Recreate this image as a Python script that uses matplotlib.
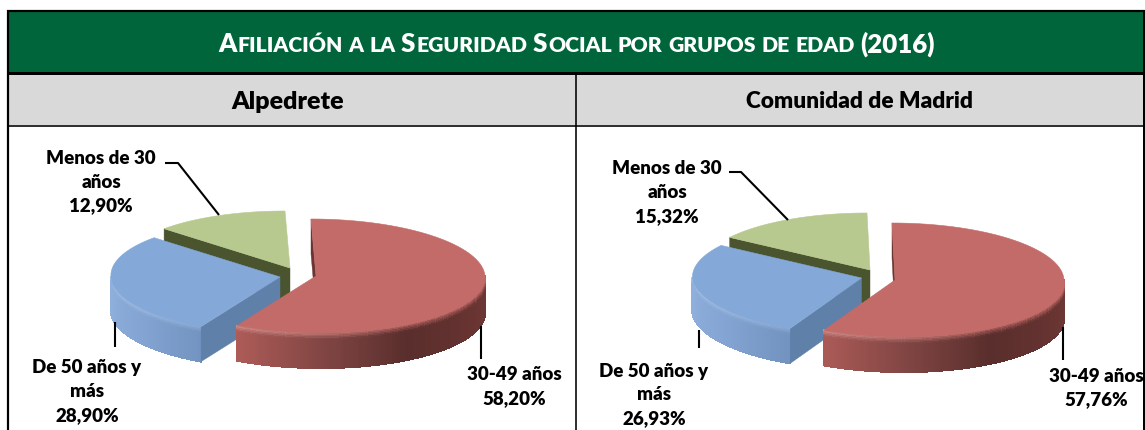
import numpy as np
import matplotlib
matplotlib.use("Agg")
import matplotlib.pyplot as plt
from matplotlib.patches import Polygon, Rectangle
from matplotlib.collections import PolyCollection
from matplotlib.colors import to_rgb
from matplotlib.font_manager import FontProperties

plt.rcParams['font.family'] = ['Lato', 'DejaVu Sans']

# Data
title_runs = ["A", "FILIACIÓN A LA ", "S", "EGURIDAD ", "S", "OCIAL POR GRUPOS DE EDAD ", "(2016)"]
regions = ["Alpedrete", "Comunidad de Madrid"]
share_alpedrete = [58.20, 28.90, 12.90]
share_madrid = [57.76, 26.93, 15.32]
labels_alpedrete = ["30-49 años\n58,20%", "De 50 años y\nmás\n28,90%", "Menos de 30\naños\n12,90%"]
labels_madrid = ["30-49 años\n57,76%", "De 50 años y\nmás\n26,93%", "Menos de 30\naños\n15,32%"]

# Colours
GREEN = "#00653A"
GREY = "#D9D9D9"
RED_TOP, BLUE_TOP, OLIVE_TOP = "#C36B68", "#84A8D8", "#B8C98F"
OLIVE_WALL, BLUE_WALL, RED_WALL = "#4A5530", "#5F80A9", "#6B3533"
RED_SIDE_ANGLES = [90, 115, 150, 175, 210]
RED_SIDE = ["#6F3836", "#683432", "#592E2C", "#7A4240", "#AE5C58"]
BLUE_SIDE_ANGLES = [205, 235, 270]
BLUE_SIDE = ["#7091BD", "#83A4D2", "#8FB0DC"]

DEPTH = 35
RX, RY = 169, 57

fig = plt.figure(figsize=(11.45, 4.3), dpi=100)
ax = fig.add_axes([0, 0, 1, 1])
ax.set_xlim(0, 1145)
ax.set_ylim(430, 0)
ax.axis("off")


def point(c, th, lean):
    t = np.radians(th)
    y0 = -np.cos(t)
    shift = lean[0] * y0 if y0 < 0 else lean[1] * y0
    return c[0] + RX * np.sin(t) + shift, c[1] + RY * y0


def rim(c, a, b, lean):
    return [point(c, th, lean) for th in np.linspace(a, b, 90)]


def hex_mix(c1, c2, f):
    c1, c2 = np.array(to_rgb(c1)), np.array(to_rgb(c2))
    return c1 * (1 - f) + c2 * f


def top_face(c, a, b, lean, color, z):
    ax.add_patch(Polygon([c] + rim(c, a, b, lean), closed=True, fc=color, ec=color, lw=0.4, zorder=z))


def cut_wall(c, th, lean, color, z):
    p = point(c, th, lean)
    pts = [p, c, (c[0], c[1] + DEPTH), (p[0], p[1] + DEPTH)]
    ax.add_patch(Polygon(pts, closed=True, fc=color, ec=color, lw=0.3, zorder=z))


def side_wall(c, a, b, lean, angles, cols, top_col, glow, z):
    # outer wall of a slice, cut in small quads for the shading and the bevel
    a2, b2 = max(a, 90), min(b, 270)
    ths = np.linspace(a2, b2, 120)
    zs = np.concatenate([np.linspace(0, 0.25, 7), np.linspace(0.3, 1, 4)])
    rgb = np.array([to_rgb(x) for x in cols])
    quads, colors = [], []
    for i in range(len(ths) - 1):
        tm = (ths[i] + ths[i + 1]) / 2
        base = np.array([np.interp(tm, angles, rgb[:, k]) for k in range(3)])
        g = np.interp(tm, glow[0], glow[1])
        rim_col = hex_mix(top_col, "#FFFFFF", g)
        p0, p1 = point(c, ths[i], lean), point(c, ths[i + 1], lean)
        for j in range(len(zs) - 1):
            zm = (zs[j] + zs[j + 1]) / 2
            f = min(1, zm / 0.2) ** 0.8
            quads.append([(p0[0], p0[1] + zs[j] * DEPTH), (p1[0], p1[1] + zs[j] * DEPTH),
                          (p1[0], p1[1] + zs[j + 1] * DEPTH), (p0[0], p0[1] + zs[j + 1] * DEPTH)])
            colors.append(rim_col * (1 - f) + base * f)
    # no antialiasing here, otherwise the quad seams show as a mesh
    ax.add_collection(PolyCollection(quads, facecolors=colors, edgecolors=colors, linewidths=0.8,
                                     antialiaseds=False, zorder=z))


def draw_pie(shares, red_c, blue_c, green_c, lean):
    red_end = shares[0] * 3.6
    blue_end = red_end + shares[1] * 3.6
    cut_wall(green_c, blue_end, lean, OLIVE_WALL, 3)
    top_face(green_c, blue_end, 360, lean, OLIVE_TOP, 4)
    side_wall(blue_c, red_end, blue_end, lean, BLUE_SIDE_ANGLES, BLUE_SIDE, BLUE_TOP, ([205, 270], [0.1, 0.4]), 5)
    cut_wall(blue_c, red_end, lean, BLUE_WALL, 6)
    top_face(blue_c, red_end, blue_end, lean, BLUE_TOP, 7)
    cut_wall(red_c, 0, lean, RED_WALL, 8)
    side_wall(red_c, 0, red_end, lean, RED_SIDE_ANGLES, RED_SIDE, RED_TOP, ([90, 150, 210], [0.0, 0.0, 0.35]), 9)
    top_face(red_c, 0, red_end, lean, RED_TOP, 10)


# Table frame
ax.add_patch(Rectangle((7, 10), 1138, 62, fc=GREEN, ec="none", zorder=1))
ax.add_patch(Rectangle((7, 73), 1138, 52, fc=GREY, ec="none", zorder=1))
for y, lw in [(11, 2.2), (73, 3), (125.5, 1.6)]:
    ax.plot([7, 1145], [y, y], color="black", lw=lw * 0.72, solid_capstyle="butt", zorder=2)
for x, lw, y0 in [(7.5, 2.2, 10), (575.5, 1.6, 73), (1143.5, 2, 10)]:
    ax.plot([x, x], [y0, 430], color="black", lw=lw * 0.72, solid_capstyle="butt", zorder=2)

# Small caps title, one piece of text per run
renderer = fig.canvas.get_renderer()
big = FontProperties(family="Lato", weight="heavy", size=18.6)
small = FontProperties(family="Lato", weight="heavy", size=15.2)
x = 218
for i, run in enumerate(title_runs):
    prop = big if (i % 2 == 0) else small
    parts = run.split(" ")
    for n, part in enumerate(parts):
        if part:
            t = ax.text(x, 52.5, part, fontproperties=prop, color="white", ha="left", va="baseline", zorder=3)
            x += t.get_window_extent(renderer).width + 1.0
        if n < len(parts) - 1:
            x += 4.7

for name, xc, fs in zip(regions, [288, 860], [18, 16.3]):
    ax.text(xc, 102, name, fontsize=fs, fontweight="heavy", ha="center", va="center", zorder=3)

# Pies
draw_pie(share_alpedrete, (316, 276), (280, 277), (290, 268), (5, 5))
draw_pie(share_madrid, (895, 280), (861.5, 278), (870, 270), (3, 9))

# Leader lines
leaders = [
    ([165, 178, 219], [163, 163, 215]),
    ([115, 115], [322, 347]),
    ([481, 481], [326, 359]),
    ([729, 741, 788], [172, 172, 220]),
    ([699, 699], [330, 348]),
    ([1063, 1063], [327, 360]),
]
for lx, ly in leaders:
    ax.plot(lx, ly, color="black", lw=1.5, solid_capstyle="butt", zorder=12)

# Labels
label_pos = [(514, 386.5), (87, 391.5), (101, 182), (1096, 388), (654, 395), (667, 193)]
for s, (lx, ly) in zip(labels_alpedrete + labels_madrid, label_pos):
    ax.text(lx, ly, s, fontsize=13.5, fontweight="heavy", ha="center", va="center", linespacing=1.5, zorder=13)

fig.savefig("out.png", dpi=100)
